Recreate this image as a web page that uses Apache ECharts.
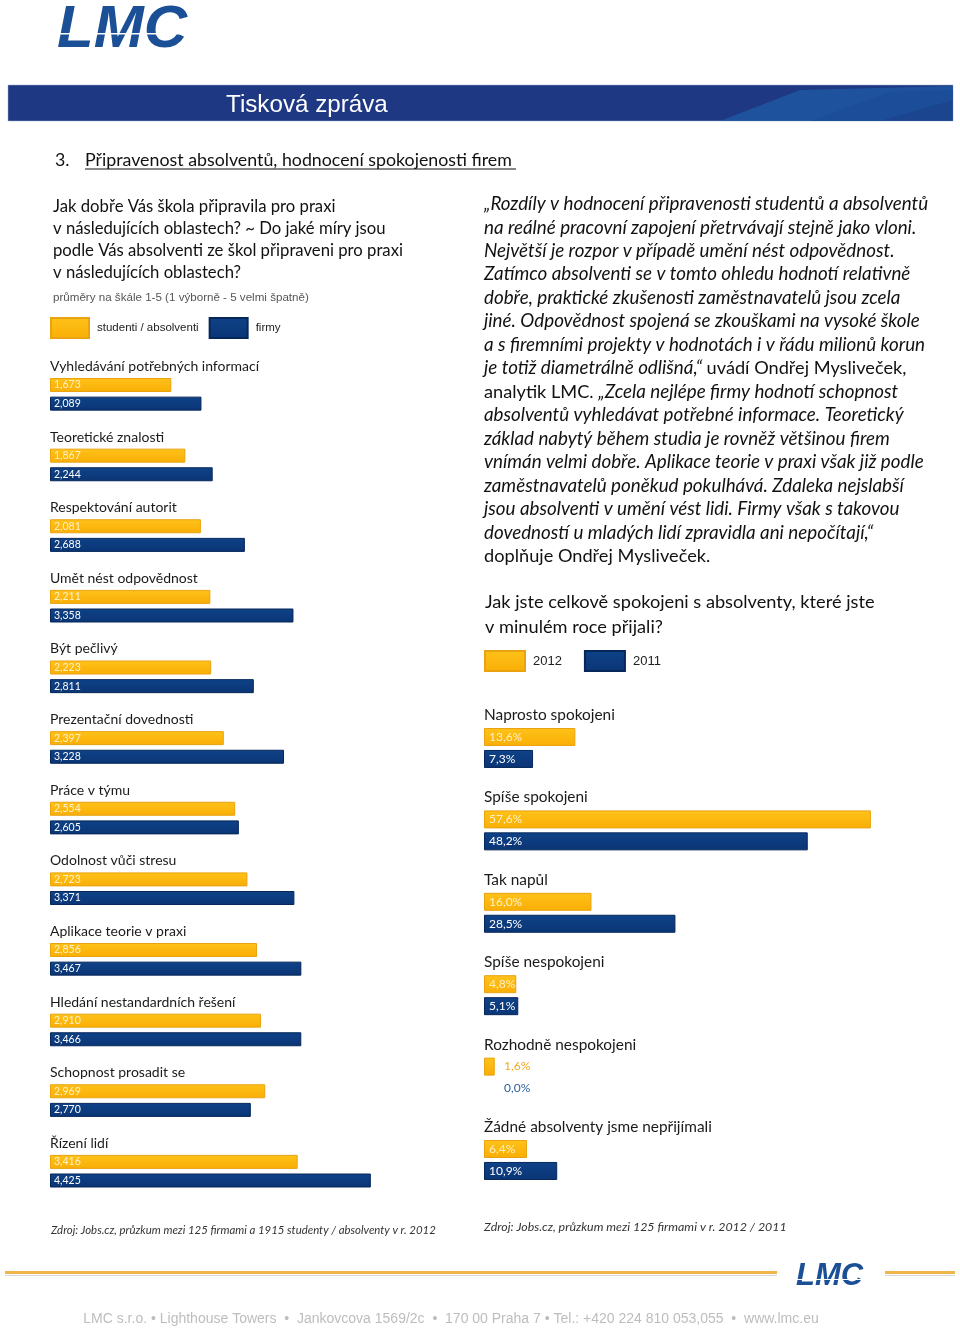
<!DOCTYPE html>
<html><head><meta charset="utf-8">
<script src="https://cdn.jsdelivr.net/npm/echarts@6/dist/echarts.min.js"></script>
<style>html,body{margin:0;padding:0;background:#fff}#c{width:960px;height:1328px}</style>
</head><body><div id="c"></div>
<script>
// ---- data ----
const leftCategories = ['Vyhledávání potřebných informací','Teoretické znalosti','Respektování autorit','Umět nést odpovědnost','Být pečlivý','Prezentační dovednosti','Práce v týmu','Odolnost vůči stresu','Aplikace teorie v praxi','Hledání nestandardních řešení','Schopnost prosadit se','Řízení lidí'];
const studenti = [1.673,1.867,2.081,2.211,2.223,2.397,2.554,2.723,2.856,2.910,2.969,3.416];
const firmy    = [2.089,2.244,2.688,3.358,2.811,3.228,2.605,3.371,3.467,3.466,2.770,4.425];
const rightCategories = ['Naprosto spokojeni','Spíše spokojeni','Tak napůl','Spíše nespokojeni','Rozhodně nespokojeni','Žádné absolventy jsme nepřijímali'];
const y2012 = [13.6,57.6,16.0,4.8,1.6,6.4];
const y2011 = [7.3,48.2,28.5,5.1,0.0,10.9];
const leftSeriesNames = ['studenti / absolventi','firmy'];
const rightSeriesNames = ['2012','2011'];

const quoteLines = [
 [['i','„Rozdíly v hodnocení připravenosti studentů a absolventů']],
 [['i','na reálné pracovní zapojení přetrvávají stejně jako vloni.']],
 [['i','Největší je rozpor v případě umění nést odpovědnost.']],
 [['i','Zatímco absolventi se v tomto ohledu hodnotí relativně']],
 [['i','dobře, praktické zkušenosti zaměstnavatelů jsou zcela']],
 [['i','jiné. Odpovědnost spojená se zkouškami na vysoké škole']],
 [['i','a s firemními projekty v hodnotách i v řádu milionů korun']],
 [['i','je totiž diametrálně odlišná,“ '],['r','uvádí Ondřej Mysliveček,']],
 [['r','analytik LMC. '],['i','„Zcela nejlépe firmy hodnotí schopnost']],
 [['i','absolventů vyhledávat potřebné informace. Teoretický']],
 [['i','základ nabytý během studia je rovněž většinou firem']],
 [['i','vnímán velmi dobře. Aplikace teorie v praxi však již podle']],
 [['i','zaměstnavatelů poněkud pokulhává. Zdaleka nejslabší']],
 [['i','jsou absolventi v umění vést lidi. Firmy však s takovou']],
 [['i','dovedností u mladých lidí zpravidla ani nepočítají,“']],
 [['r','doplňuje Ondřej Mysliveček.']]
];
const leftQuestion = ['Jak dobře Vás škola připravila pro praxi','v následujících oblastech? ~ Do jaké míry jsou','podle Vás absolventi ze škol připraveni pro praxi','v následujících oblastech?'];
const rightQuestion = ['Jak jste celkově spokojeni s absolventy, které jste','v minulém roce přijali?'];

// ---- styles ----
const FONT = 'Lato, "Open Sans", sans-serif';
const ARIAL = '"Liberation Sans", Arial, sans-serif';
const ORANGE = {type:'linear',x:0,y:0,x2:0,y2:1,colorStops:[{offset:0,color:'#FFC21A'},{offset:1,color:'#F9AE05'}]};
const BLUE = {type:'linear',x:0,y:0,x2:0,y2:1,colorStops:[{offset:0,color:'#0F4288'},{offset:1,color:'#0A3575'}]};

const fmt3 = v => v.toFixed(3).replace('.', ',');
const fmt1 = v => v.toFixed(1).replace('.', ',') + '%';

const chart = echarts.init(document.getElementById('c'), null, {renderer:'canvas'});

const graphics = [];
function txt(x, y, text, font, fill, extra) {
  graphics.push({type:'text', x:x, y:y, style:Object.assign({text:text, font:font, fill:fill, textVerticalAlign:'middle'}, extra||{})});
}
// logo
graphics.push({type:'text', x:57, y:30, style:{text:'LMC', font:'italic bold 60px ' + ARIAL, fill:'#1B4F96', textVerticalAlign:'middle'}});
graphics.push({type:'rect', shape:{x:55,y:33,width:140,height:1.5}, style:{fill:'#fff'}});
// banner
graphics.push({type:'rect', shape:{x:8,y:85,width:945,height:36}, style:{fill:'#1E3883', stroke:'#9FB0CF', lineWidth:0.5}});
graphics.push({type:'polygon', shape:{points:[[720,121],[800,90],[953,86],[953,100],[880,121]]}, style:{fill:'#1F5BA6', opacity:0.75}});
graphics.push({type:'polygon', shape:{points:[[810,121],[890,92],[953,90],[953,121]]}, style:{fill:'#1B4C95', opacity:0.7}});
txt(226, 105, 'Tisková zpráva', '24.2px ' + ARIAL, '#ffffff');
// section heading
txt(55, 160, '3.', '17.8px ' + FONT, '#111');
txt(85, 160, 'Připravenost absolventů, hodnocení spokojenosti firem', '17.8px ' + FONT, '#111');
graphics.push({type:'line', shape:{x1:85,y1:169,x2:516,y2:169}, style:{stroke:'#111', lineWidth:1}});
// left question
leftQuestion.forEach((l,i)=>txt(53, 207 + i*22, l, '16.7px ' + FONT, '#111'));
txt(53, 298, 'průměry na škále 1-5 (1 výborně - 5 velmi špatně)', '11.6px ' + ARIAL, '#555');
// quote
quoteLines.forEach((segs,i)=>{
  const text = segs.map(s=>'{'+s[0]+'|'+s[1]+'}').join('');
  graphics.push({type:'text', x:484, y:204 + i*23.47, style:{text:text, textVerticalAlign:'middle', rich:{
    i:{fontFamily:'Lato, sans-serif', fontStyle:'italic', fontSize:18.8, fill:'#111'},
    r:{fontFamily:'Lato, sans-serif', fontStyle:'normal', fontSize:18.2, fill:'#111'}}}});
});
// right question
rightQuestion.forEach((l,i)=>txt(485, 602 + i*25, l, '18.2px ' + FONT, '#111'));
// sources
txt(51, 1230, 'Zdroj: Jobs.cz, průzkum mezi 125 firmami a 1915 studenty / absolventy v r. 2012', 'italic 11.4px ' + FONT, '#333');
txt(484, 1227, 'Zdroj: Jobs.cz, průzkum mezi 125 firmami v r. 2012 / 2011', 'italic 12.4px ' + FONT, '#333');
// footer
graphics.push({type:'rect', shape:{x:5,y:1271,width:772,height:3}, style:{fill:'#F0B64A'}});
graphics.push({type:'rect', shape:{x:5,y:1275,width:772,height:1}, style:{fill:'#D8D8D8'}});
graphics.push({type:'rect', shape:{x:885,y:1271,width:70,height:3}, style:{fill:'#F0B64A'}});
graphics.push({type:'rect', shape:{x:885,y:1275,width:70,height:1}, style:{fill:'#D8D8D8'}});
graphics.push({type:'text', x:796, y:1276, style:{text:'LMC', font:'italic bold 31px ' + ARIAL, fill:'#1B4F96', textVerticalAlign:'middle'}});
graphics.push({type:'rect', shape:{x:795,y:1279,width:76,height:1}, style:{fill:'#fff'}});
txt(451, 1319, 'LMC s.r.o. • Lighthouse Towers  •  Jankovcova 1569/2c  •  170 00 Praha 7 • Tel.: +420 224 810 053,055  •  www.lmc.eu', '14px ' + ARIAL, '#BDBDBD', {textAlign:'center'});

const LEFT_MAX = 6, RIGHT_MAX = 60;
const catLabel = (size) => ({show:true, position:'insideLeft', distance:0, formatter:'{b}', color:'#1a1a1a', fontFamily:FONT, fontSize:size});

const rightOrange = y2012.map(v => v < 3 ? {value:v, label:{distance:20, color:'#F2A81D'}, itemStyle:v===0?{borderWidth:0}:undefined} : v);
const rightBlue = y2011.map(v => v < 3 ? {value:v, label:{distance:20, color:'#2E5E9E'}, itemStyle:v===0?{borderWidth:0}:undefined} : v);

chart.setOption({
  animation:false,
  graphic: graphics,
  legend:[
    {data:leftSeriesNames, left:50, top:317, padding:0, orient:'horizontal', icon:'rect', itemWidth:38, itemHeight:20, itemGap:10,
     textStyle:{fontFamily:ARIAL, fontSize:11.5, color:'#222', padding:[0,0,0,3]}, selectedMode:false},
    {data:rightSeriesNames, left:484, top:650, padding:0, orient:'horizontal', icon:'rect', itemWidth:40, itemHeight:20, itemGap:22,
     textStyle:{fontFamily:ARIAL, fontSize:13, color:'#222', padding:[0,0,0,3]}, selectedMode:false}
  ],
  grid:[
    {left:50, width:435, top:349.7, height:847.5},
    {left:484, width:403, top:695.8, height:494.4}
  ],
  xAxis:[
    {gridIndex:0, type:'value', min:0, max:LEFT_MAX, show:false},
    {gridIndex:1, type:'value', min:0, max:RIGHT_MAX, show:false}
  ],
  yAxis:[
    {gridIndex:0, type:'category', data:leftCategories, inverse:true, show:false},
    {gridIndex:1, type:'category', data:rightCategories, inverse:true, show:false}
  ],
  series:[
    {name:'labelsL', type:'bar', xAxisIndex:0, yAxisIndex:0, data:leftCategories.map(()=>LEFT_MAX), barWidth:14, barGap:'33%',
     itemStyle:{color:'rgba(0,0,0,0)'}, label:catLabel(14), silent:true},
    {name:leftSeriesNames[0], type:'bar', xAxisIndex:0, yAxisIndex:0, data:studenti, barWidth:14, barGap:'33%',
     itemStyle:{color:ORANGE, borderColor:'#E9A310', borderWidth:1},
     label:{show:true, position:'insideLeft', distance:4, formatter:p=>fmt3(p.value), color:'#FFF1C4', fontFamily:FONT, fontSize:10.5}},
    {name:leftSeriesNames[1], type:'bar', xAxisIndex:0, yAxisIndex:0, data:firmy, barWidth:14, barGap:'33%',
     itemStyle:{color:BLUE, borderColor:'#062759', borderWidth:1},
     label:{show:true, position:'insideLeft', distance:4, formatter:p=>fmt3(p.value), color:'#FFFFFF', fontFamily:FONT, fontSize:10.5}},
    {name:'labelsR', type:'bar', xAxisIndex:1, yAxisIndex:1, data:rightCategories.map(()=>RIGHT_MAX), barWidth:18, barGap:'22%',
     itemStyle:{color:'rgba(0,0,0,0)'}, label:catLabel(15.4), silent:true},
    {name:rightSeriesNames[0], type:'bar', xAxisIndex:1, yAxisIndex:1, data:rightOrange, barWidth:18, barGap:'22%',
     itemStyle:{color:ORANGE, borderColor:'#E9A310', borderWidth:1},
     label:{show:true, position:'insideLeft', distance:5, formatter:p=>fmt1(p.value), color:'#FFF1C4', fontFamily:FONT, fontSize:12}},
    {name:rightSeriesNames[1], type:'bar', xAxisIndex:1, yAxisIndex:1, data:rightBlue, barWidth:18, barGap:'22%',
     itemStyle:{color:BLUE, borderColor:'#062759', borderWidth:1},
     label:{show:true, position:'insideLeft', distance:5, formatter:p=>fmt1(p.value), color:'#FFFFFF', fontFamily:FONT, fontSize:12}}
  ]
});
</script></body></html>
